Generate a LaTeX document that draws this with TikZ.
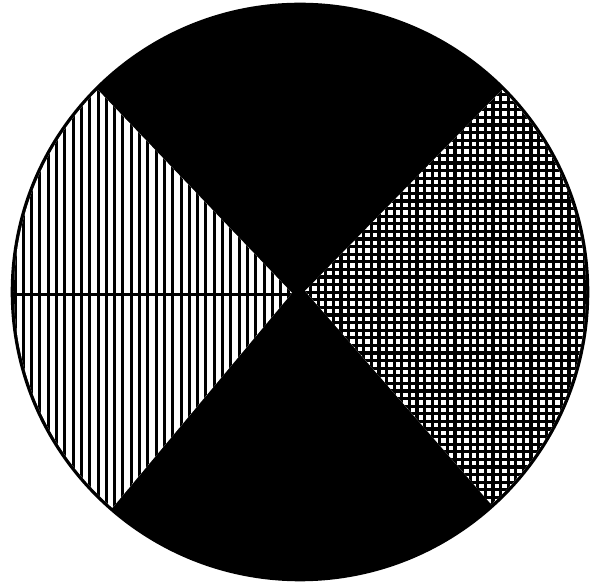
\documentclass[tikz,border=0pt]{standalone}
\usepackage{tikz}

\begin{document}
\begin{tikzpicture}[x=1pt, y=1pt,
    rim/.style={draw=black, line width=2.6pt},
    vline/.style={line width=3pt},
    gline/.style={line width=3.2pt}]
    \useasboundingbox (0,0) rectangle (594,583);
    \coordinate (C) at (300,291);
    \coordinate (L) at (292,290);
    \coordinate (R) at (305,292);
    \fill[black] (C) circle[radius=288];
    % left sector, vertical hatching
    \begin{scope}
      \clip (L) -- ([shift={(135:286)}]C) arc[start angle=135, end angle=229, radius=286] -- cycle;
      \fill[white] (0,0) rectangle (594,583);
      \foreach \x in {15,23.3,...,300}
        \draw[vline] (\x,0) -- (\x,583);
      \draw[vline] (0,288) -- (300,288);
    \end{scope}
    % right sector, cross hatching
    \begin{scope}
      \clip (R) -- ([shift={(-48:286)}]C) arc[start angle=-48, end angle=45, radius=286] -- cycle;
      \fill[white] (0,0) rectangle (594,583);
      \foreach \x in {303,310.6,...,594}
        \draw[gline] (\x,0) -- (\x,583);
      \foreach \y in {2,9.6,...,583}
        \draw[gline] (300,\y) -- (594,\y);
      \draw[line width=1.4pt] (300,299) -- (594,299);
    \end{scope}
    \draw[rim] (C) circle[radius=288];
\end{tikzpicture}
\end{document}
